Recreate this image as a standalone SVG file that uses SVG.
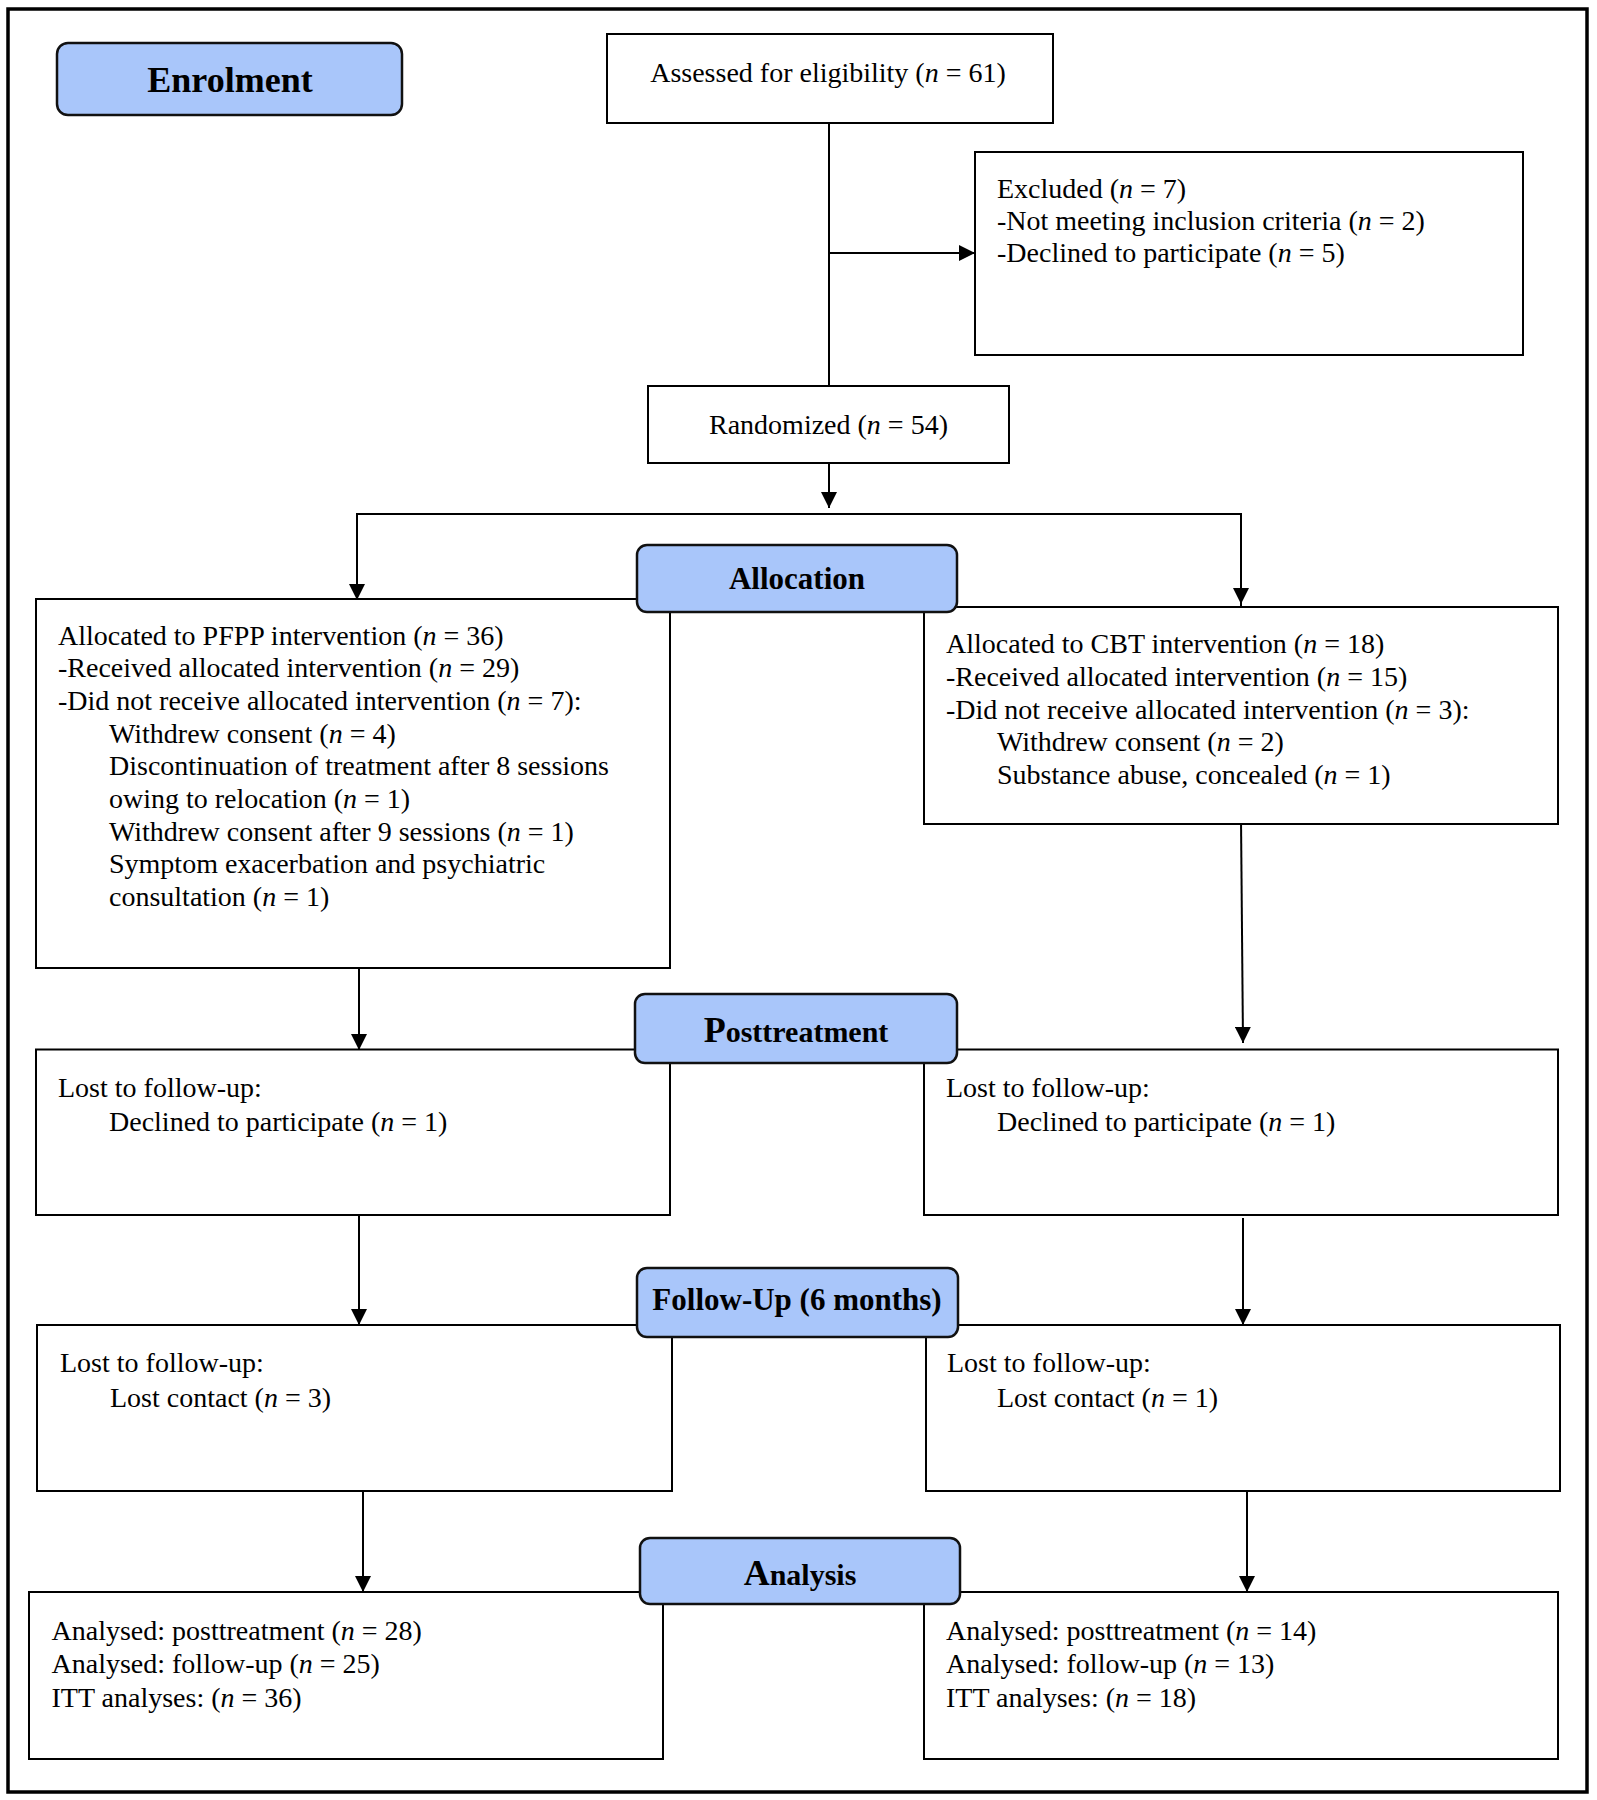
<svg xmlns="http://www.w3.org/2000/svg" width="1597" height="1800" viewBox="0 0 1597 1800">
<style>
.box{fill:#fff;stroke:#000;stroke-width:2}
.lab{fill:#a9c6fa;stroke:#111;stroke-width:2.5}
.t{font-family:"Liberation Serif","Times New Roman",serif;font-size:28px;fill:#000}
.b{font-family:"Liberation Serif","Times New Roman",serif;font-weight:bold;fill:#000}
.c{fill:none;stroke:#000;stroke-width:2}
.i{font-style:italic}
</style>
<defs>
<marker id="ah" markerUnits="userSpaceOnUse" markerWidth="16" markerHeight="16" refX="16" refY="8" orient="auto">
<path d="M0,0 L16,8 L0,16 Z" fill="#000"/>
</marker>
</defs>
<rect x="0" y="0" width="1597" height="1800" fill="#fff"/>
<rect id="frame" x="8" y="9" width="1579" height="1783" fill="none" stroke="#000" stroke-width="3.5"/>

<g id="connectors">
<line class="c" x1="829" y1="123" x2="829" y2="386"/>
<line class="c" x1="829" y1="253" x2="975" y2="253" marker-end="url(#ah)"/>
<line class="c" x1="829" y1="463" x2="829" y2="508" marker-end="url(#ah)"/>
<polyline class="c" points="357,599 357,514 1241,514 1241,607"/>
<line class="c" x1="357" y1="514" x2="357" y2="600" marker-end="url(#ah)"/>
<line class="c" x1="1241" y1="514" x2="1241" y2="604" marker-end="url(#ah)"/>
<line class="c" x1="359" y1="968" x2="359" y2="1050" marker-end="url(#ah)"/>
<line class="c" x1="1241" y1="819" x2="1243" y2="1043" marker-end="url(#ah)"/>
<line class="c" x1="359" y1="1215" x2="359" y2="1325" marker-end="url(#ah)"/>
<line class="c" x1="1243" y1="1218" x2="1243" y2="1325" marker-end="url(#ah)"/>
<line class="c" x1="363" y1="1491" x2="363" y2="1592" marker-end="url(#ah)"/>
<line class="c" x1="1247" y1="1491" x2="1247" y2="1592" marker-end="url(#ah)"/>
</g>

<g id="assessed">
<rect class="box" x="607" y="34" width="446" height="89"/>
<text class="t" x="828" y="82" text-anchor="middle">Assessed for eligibility (<tspan class="i">n</tspan> = 61)</text>
</g>

<g id="excluded">
<rect class="box" x="975" y="152" width="548" height="203"/>
<text class="t" x="997" y="198">Excluded (<tspan class="i">n</tspan> = 7)</text>
<text class="t" x="997" y="230">-Not meeting inclusion criteria (<tspan class="i">n</tspan> = 2)</text>
<text class="t" x="997" y="262">-Declined to participate (<tspan class="i">n</tspan> = 5)</text>
</g>

<g id="randomized">
<rect class="box" x="648" y="386" width="361" height="77"/>
<text class="t" x="828.5" y="434" text-anchor="middle">Randomized (<tspan class="i">n</tspan> = 54)</text>
</g>

<g id="pfpp-allocated">
<rect class="box" x="36" y="599" width="634" height="369"/>
<text class="t" x="58" y="645">Allocated to PFPP intervention (<tspan class="i">n</tspan> = 36)</text>
<text class="t" x="58" y="677">-Received allocated intervention (<tspan class="i">n</tspan> = 29)</text>
<text class="t" x="58" y="710">-Did not receive allocated intervention (<tspan class="i">n</tspan> = 7):</text>
<text class="t" x="109" y="743">Withdrew consent (<tspan class="i">n</tspan> = 4)</text>
<text class="t" x="109" y="775">Discontinuation of treatment after 8 sessions</text>
<text class="t" x="109" y="808">owing to relocation (<tspan class="i">n</tspan> = 1)</text>
<text class="t" x="109" y="841">Withdrew consent after 9 sessions (<tspan class="i">n</tspan> = 1)</text>
<text class="t" x="109" y="873">Symptom exacerbation and psychiatric</text>
<text class="t" x="109" y="906">consultation (<tspan class="i">n</tspan> = 1)</text>
</g>

<g id="cbt-allocated">
<rect class="box" x="924" y="607" width="634" height="217"/>
<text class="t" x="946" y="653">Allocated to CBT intervention (<tspan class="i">n</tspan> = 18)</text>
<text class="t" x="946" y="686">-Received allocated intervention (<tspan class="i">n</tspan> = 15)</text>
<text class="t" x="946" y="719">-Did not receive allocated intervention (<tspan class="i">n</tspan> = 3):</text>
<text class="t" x="997" y="751">Withdrew consent (<tspan class="i">n</tspan> = 2)</text>
<text class="t" x="997" y="784">Substance abuse, concealed (<tspan class="i">n</tspan> = 1)</text>
</g>

<g id="pfpp-post">
<rect class="box" x="36" y="1049.5" width="634" height="165.5"/>
<text class="t" x="58" y="1097">Lost to follow-up:</text>
<text class="t" x="109" y="1131">Declined to participate (<tspan class="i">n</tspan> = 1)</text>
</g>

<g id="cbt-post">
<rect class="box" x="924" y="1049.5" width="634" height="165.5"/>
<text class="t" x="946" y="1097">Lost to follow-up:</text>
<text class="t" x="997" y="1131">Declined to participate (<tspan class="i">n</tspan> = 1)</text>
</g>

<g id="pfpp-followup">
<rect class="box" x="37" y="1325" width="635" height="166"/>
<text class="t" x="60" y="1372">Lost to follow-up:</text>
<text class="t" x="110" y="1407">Lost contact (<tspan class="i">n</tspan> = 3)</text>
</g>

<g id="cbt-followup">
<rect class="box" x="926" y="1325" width="634" height="166"/>
<text class="t" x="947" y="1372">Lost to follow-up:</text>
<text class="t" x="997" y="1407">Lost contact (<tspan class="i">n</tspan> = 1)</text>
</g>

<g id="pfpp-analysis">
<rect class="box" x="29" y="1592" width="634" height="167"/>
<text class="t" x="51.5" y="1640">Analysed: posttreatment (<tspan class="i">n</tspan> = 28)</text>
<text class="t" x="51.5" y="1673">Analysed: follow-up (<tspan class="i">n</tspan> = 25)</text>
<text class="t" x="51.5" y="1707">ITT analyses: (<tspan class="i">n</tspan> = 36)</text>
</g>

<g id="cbt-analysis">
<rect class="box" x="924" y="1592" width="634" height="167"/>
<text class="t" x="946" y="1640">Analysed: posttreatment (<tspan class="i">n</tspan> = 14)</text>
<text class="t" x="946" y="1673">Analysed: follow-up (<tspan class="i">n</tspan> = 13)</text>
<text class="t" x="946" y="1707">ITT analyses: (<tspan class="i">n</tspan> = 18)</text>
</g>

<g id="label-enrolment">
<rect class="lab" x="57" y="43" width="345" height="72" rx="11"/>
<text class="b" x="230" y="92" font-size="36" text-anchor="middle">Enrolment</text>
</g>

<g id="label-allocation">
<rect class="lab" x="637" y="545" width="320" height="67" rx="10"/>
<text class="b" x="797" y="589" font-size="31" text-anchor="middle">Allocation</text>
</g>

<g id="label-posttreatment">
<rect class="lab" x="635" y="994" width="322" height="69" rx="10"/>
<text class="b" x="796" y="1042" font-size="30" text-anchor="middle"><tspan font-size="36">P</tspan>osttreatment</text>
</g>

<g id="label-followup">
<rect class="lab" x="637" y="1268" width="321" height="69" rx="10"/>
<text class="b" x="797" y="1310" font-size="31" text-anchor="middle">Follow-Up (6 months)</text>
</g>

<g id="label-analysis">
<rect class="lab" x="640" y="1538" width="320" height="66" rx="10"/>
<text class="b" x="800" y="1585" font-size="30" text-anchor="middle"><tspan font-size="36">A</tspan>nalysis</text>
</g>
</svg>
